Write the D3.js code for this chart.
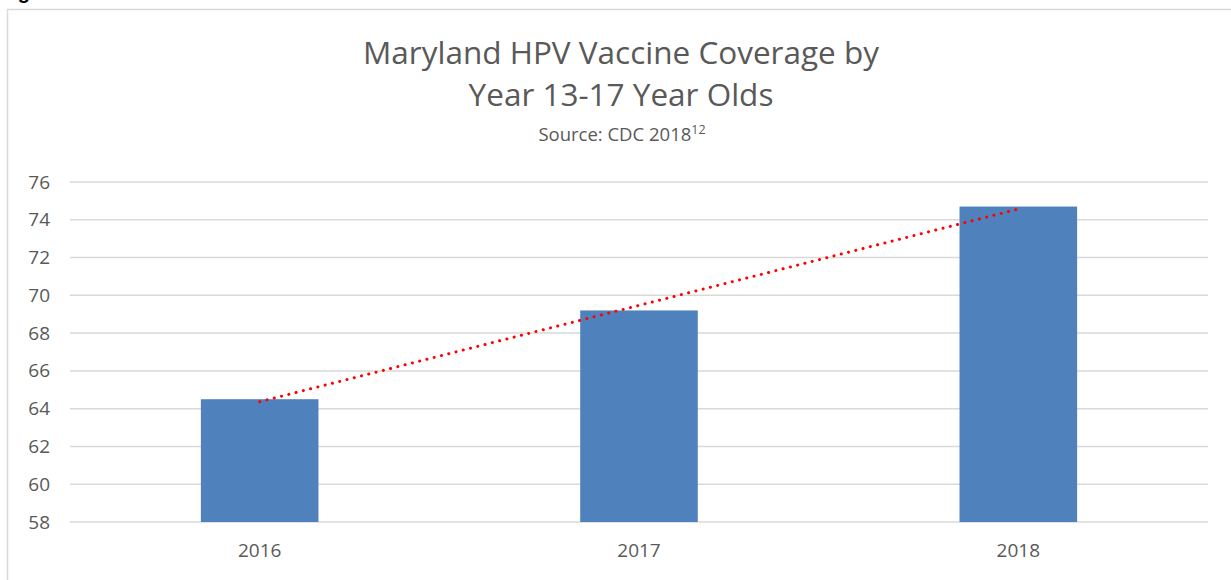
<!DOCTYPE html>
<html>
<head>
<meta charset="utf-8">
<script src="https://cdn.jsdelivr.net/npm/d3@7"></script>
<style>
  html, body { margin: 0; padding: 0; background: #fff; }
  svg { display: block; }
</style>
</head>
<body>
<svg id="chart" width="1231" height="580"></svg>
<script>
// Coverage (%) of 13-17 year olds with HPV vaccine, Maryland
const years = ["2016", "2017", "2018"];
const coverage = [64.5, 69.2, 74.7];
const yTicks = [58, 60, 62, 64, 66, 68, 70, 72, 74, 76];

const W = 1231, H = 580;
const margin = { left: 70, right: 23, top: 182, bottom: 58 };
const font = "'Open Sans', 'Liberation Sans', sans-serif";
const textColor = "#595959";

const svg = d3.select("#chart");

// caption line above the chart frame (mostly clipped at top)
svg.append("text")
  .attr("x", 0).attr("y", -1)
  .attr("font-family", "'Liberation Sans', Arial, sans-serif")
  .attr("font-weight", "bold").attr("font-size", 20)
  .attr("fill", "#000")
  .text("Figure 3");

// chart frame
svg.append("rect")
  .attr("x", 7.5).attr("y", 9.5)
  .attr("width", W + 20).attr("height", H + 20)
  .attr("fill", "none").attr("stroke", "#d9d9d9").attr("stroke-width", 1.5);

const x = d3.scaleBand()
  .domain(years)
  .range([margin.left, W - margin.right])
  .paddingInner(0.69).paddingOuter(0.345);

const y = d3.scaleLinear()
  .domain([58, 76])
  .range([H - margin.bottom, margin.top]);

// horizontal gridlines
svg.append("g")
  .selectAll("line")
  .data(yTicks)
  .join("line")
  .attr("x1", margin.left).attr("x2", W - margin.right)
  .attr("y1", d => y(d)).attr("y2", d => y(d))
  .attr("stroke", "#d9d9d9").attr("stroke-width", 1.5);

// y tick labels
const yAxis = d3.axisLeft(y).tickValues(yTicks).tickSize(0).tickPadding(20);
const gy = svg.append("g").attr("transform", `translate(${margin.left},0)`).call(yAxis);
gy.select(".domain").remove();
gy.selectAll("text")
  .attr("font-family", font).attr("font-size", 19)
  .attr("fill", textColor);

// bars
svg.append("g")
  .selectAll("rect")
  .data(years.map((yr, i) => ({ yr, v: coverage[i] })))
  .join("rect")
  .attr("x", d => x(d.yr))
  .attr("width", x.bandwidth())
  .attr("y", d => y(d.v))
  .attr("height", d => y(58) - y(d.v))
  .attr("fill", "#4f81bd");

// x tick labels
const xAxis = d3.axisBottom(x).tickSize(0).tickPadding(22);
const gx = svg.append("g").attr("transform", `translate(0,${H - margin.bottom})`).call(xAxis);
gx.select(".domain").remove();
gx.selectAll("text")
  .attr("font-family", font).attr("font-size", 19)
  .attr("fill", textColor);

// linear trendline (least squares over year index)
const n = coverage.length;
const xs = d3.range(1, n + 1);
const mx = d3.mean(xs), my = d3.mean(coverage);
const slope = d3.sum(xs.map((xi, i) => (xi - mx) * (coverage[i] - my))) /
              d3.sum(xs.map(xi => (xi - mx) ** 2));
const intercept = my - slope * mx;
const trend = years.map((yr, i) => ({ yr, v: intercept + slope * xs[i] }));
const first = trend[0], last = trend[n - 1];

svg.append("line")
  .attr("x1", x(first.yr) + x.bandwidth() / 2)
  .attr("y1", y(first.v))
  .attr("x2", x(last.yr) + x.bandwidth() / 2)
  .attr("y2", y(last.v))
  .attr("stroke", "#ff0000").attr("stroke-width", 3)
  .attr("stroke-linecap", "round")
  .attr("stroke-dasharray", "0.1 7.4");

// titles
const title = svg.append("g").attr("font-family", font).attr("fill", textColor).attr("text-anchor", "middle");
title.append("text").attr("x", 621).attr("y", 64).attr("font-size", 31.5)
  .text("Maryland HPV Vaccine Coverage by");
title.append("text").attr("x", 621).attr("y", 106).attr("font-size", 31.5)
  .text("Year 13-17 Year Olds");
const src = title.append("text").attr("x", 622).attr("y", 141).attr("font-size", 18.5);
src.append("tspan").text("Source: CDC 2018");
src.append("tspan").attr("font-size", 12.5).attr("dy", -7).text("12");
</script>
</body>
</html>
